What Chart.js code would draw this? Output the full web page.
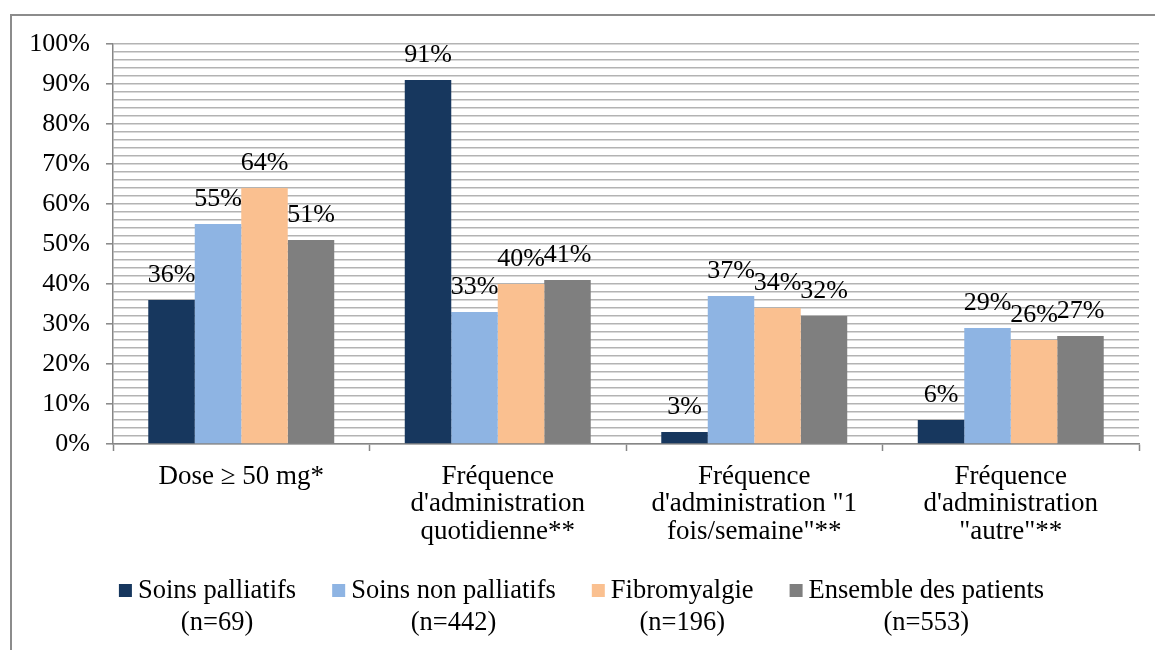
<!DOCTYPE html>
<html>
<head>
<meta charset="utf-8">
<script src="https://cdn.jsdelivr.net/npm/chart.js@4"></script>
<style>
  html, body { margin: 0; padding: 0; background: #ffffff; }
  #wrap { width: 1155px; height: 650px; position: relative; }
</style>
</head>
<body>
<div id="wrap"><canvas id="c" width="1155" height="650"></canvas></div>
<script>
const categories = [
  ["Dose \u2265 50 mg*"],
  ["Fr\u00e9quence", "d'administration", "quotidienne**"],
  ["Fr\u00e9quence", "d'administration \"1", "fois/semaine\"**"],
  ["Fr\u00e9quence", "d'administration", "\"autre\"**"]
];
const seriesNames = ["Soins palliatifs", "Soins non palliatifs", "Fibromyalgie", "Ensemble des patients"];
const seriesCounts = ["(n=69)", "(n=442)", "(n=196)", "(n=553)"];
const soinsPalliatifs = [36, 91, 3, 6];
const soinsNonPalliatifs = [55, 33, 37, 29];
const fibromyalgie = [64, 40, 34, 26];
const ensemblePatients = [51, 41, 32, 27];
const yMin = 0, yMax = 100, yGridStep = 2, yLabelStep = 10;

const colors = ["#17375E", "#8EB4E3", "#FAC090", "#7F7F7F"];
const FONT = '"Liberation Serif", "Times New Roman", serif';
const FS = 26;
const FS_X = 27;
const FS_LEG = 26.5;
const axisGray = "#868686";
const gridGray = "#b3b3b3";

const seriesValues = [soinsPalliatifs, soinsNonPalliatifs, fibromyalgie, ensemblePatients];

const framePlugin = {
  id: 'frame',
  beforeDraw(chart) {
    const ctx = chart.ctx;
    ctx.save();
    ctx.strokeStyle = "#8c8c8c";
    ctx.lineWidth = 2;
    ctx.beginPath();
    ctx.moveTo(11, 660);
    ctx.lineTo(11, 15);
    ctx.lineTo(1170, 15);
    ctx.stroke();
    ctx.restore();
  }
};

const labelPlugin = {
  id: 'barLabels',
  afterDatasetsDraw(chart) {
    const ctx = chart.ctx;
    ctx.save();
    ctx.font = FS + 'px ' + FONT;
    ctx.fillStyle = "#000";
    ctx.textAlign = 'center';
    ctx.textBaseline = 'alphabetic';
    chart.data.datasets.forEach((ds, i) => {
      const meta = chart.getDatasetMeta(i);
      meta.data.forEach((bar, j) => {
        ctx.fillText(ds.data[j] + '%', bar.x, bar.y - 18);
      });
    });
    ctx.restore();
  }
};

const legendPlugin = {
  id: 'customLegend',
  afterDraw(chart) {
    const ctx = chart.ctx;
    ctx.save();
    ctx.font = FS_LEG + 'px ' + FONT;
    const box = 13, gapBox = 6, gapItem = 36;
    const widths = seriesNames.map(n => ctx.measureText(n).width);
    let total = 0;
    widths.forEach((w, i) => { total += box + gapBox + w + (i < widths.length - 1 ? gapItem : 0); });
    let x = 581.5 - total / 2;
    const base1 = 598, base2 = 630;
    chart.data.datasets.forEach((ds, i) => {
      ctx.fillStyle = ds.backgroundColor;
      ctx.fillRect(x, 584, box, box);
      const tx = x + box + gapBox;
      ctx.fillStyle = "#000";
      ctx.textAlign = 'left';
      ctx.textBaseline = 'alphabetic';
      ctx.fillText(seriesNames[i], tx, base1);
      ctx.textAlign = 'center';
      ctx.fillText(seriesCounts[i], tx + widths[i] / 2, base2);
      x = tx + widths[i] + gapItem;
    });
    ctx.restore();
  }
};

new Chart(document.getElementById('c'), {
  type: 'bar',
  data: {
    labels: categories,
    datasets: seriesNames.map((name, i) => ({
      label: name,
      data: seriesValues[i],
      backgroundColor: colors[i],
      borderWidth: 0,
      categoryPercentage: 0.725,
      barPercentage: 1.0
    }))
  },
  options: {
    responsive: false,
    animation: false,
    devicePixelRatio: 1,
    layout: { padding: { left: 0, right: 16, top: 44, bottom: 0 } },
    plugins: {
      legend: { display: false },
      tooltip: { enabled: false },
      title: { display: false }
    },
    scales: {
      x: {
        afterFit(scale) { scale.height = 206; },
        grid: {
          display: true,
          offset: true,
          drawOnChartArea: false,
          drawTicks: true,
          tickLength: 7,
          tickColor: axisGray,
          tickWidth: 1.5
        },
        border: { display: true, color: axisGray, width: 1.5 },
        ticks: {
          color: "#000",
          padding: 12,
          maxRotation: 0,
          autoSkip: false,
          font: { family: FONT, size: FS_X, lineHeight: 1.02 }
        }
      },
      y: {
        min: yMin,
        max: yMax,
        afterFit(scale) { scale.width = 113; },
        grid: {
          color: gridGray,
          lineWidth: 1.6,
          drawTicks: true,
          tickLength: 7,
          tickColor: (c) => (c.tick && c.tick.value % yLabelStep === 0) ? axisGray : 'rgba(0,0,0,0)',
          tickWidth: 1.5
        },
        border: { display: true, color: axisGray, width: 1.5 },
        ticks: {
          stepSize: yGridStep,
          autoSkip: false,
          padding: 16,
          color: "#000",
          font: { family: FONT, size: FS },
          callback: (v) => (v % yLabelStep === 0) ? v + '%' : ''
        }
      }
    }
  },
  plugins: [framePlugin, labelPlugin, legendPlugin]
});
</script>
</body>
</html>
